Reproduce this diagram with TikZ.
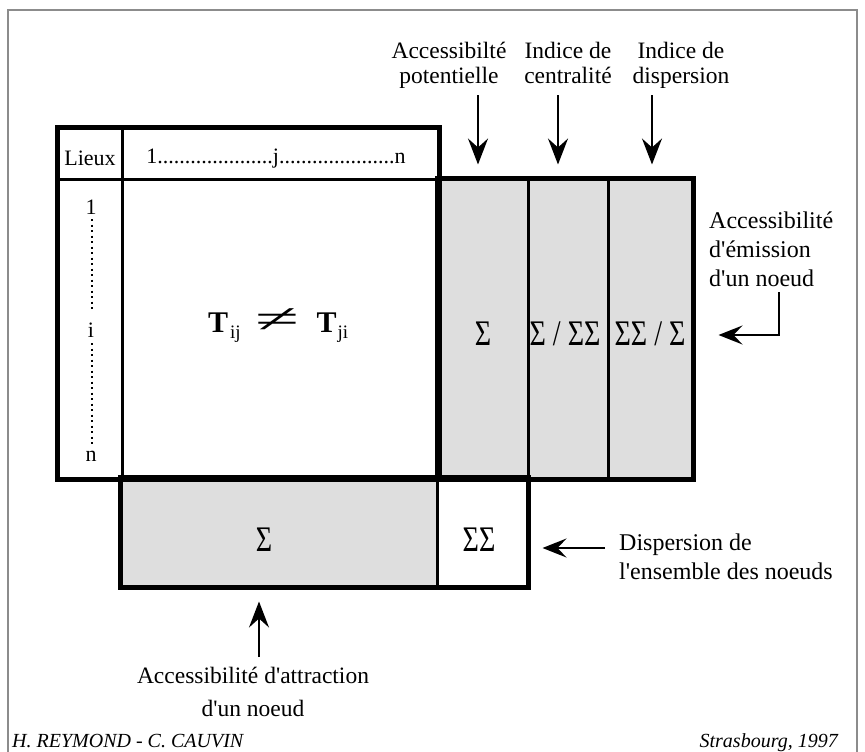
\documentclass[tikz,border=0pt]{standalone}
\usepackage{fontspec}
\setmainfont{Liberation Serif}[Ligatures=TeXOff]
\usetikzlibrary{arrows.meta}
\begin{document}
\begin{tikzpicture}[x=1pt,y=-1pt,
  cellbox/.style={draw=black, line width=3pt, inner sep=0pt},
  grayc/.style={fill=black!13},
  txt/.style={font=\fontsize{22}{26}\selectfont, inner sep=0pt},
  lblc/.style={font=\fontsize{23.5}{25}\selectfont, align=center, inner sep=0pt, anchor=north},
  lbll/.style={font=\fontsize{24}{29}\selectfont, align=left, inner sep=0pt, anchor=north west},
  sig/.style={font=\fontsize{36}{36}\selectfont, inner sep=0pt},
  foot/.style={font=\fontsize{20}{20}\selectfont\itshape, inner sep=0pt},
  bigarrow/.style={line width=2pt, -{Stealth[length=26pt,width=20pt,inset=9pt]}},
  sidearrow/.style={line width=2pt, -{Stealth[length=24pt,width=19pt,inset=9pt]}},
  dotline/.style={line width=2pt, dash pattern=on 2pt off 3.5pt}
]
\useasboundingbox (0,0) rectangle (865,752);
% frame
\draw[black!45, line width=2pt] (8,752) -- (8,10) -- (857,10) -- (857,752);

% matrix cells
\node[cellbox, minimum width=64pt, minimum height=51pt] (lieux) at (90,153.5) {};
\node[cellbox, minimum width=316pt, minimum height=51pt] (head) at (280,153.5) {};
\node[cellbox, minimum width=64pt, minimum height=299pt] (rowlab) at (90,328.5) {};
\node[cellbox, minimum width=316pt, minimum height=299pt] (main) at (280,328.5) {};
% gray columns
\node[cellbox, grayc, minimum width=90pt, minimum height=299pt] (cs1) at (483,328.5) {};
\node[cellbox, grayc, minimum width=80pt, minimum height=299pt] (cs2) at (568,328.5) {};
\node[cellbox, grayc, minimum width=84pt, minimum height=299pt] (cs3) at (650,328.5) {};
% bottom row
\node[cellbox, grayc, minimum width=316pt, minimum height=108pt] (bs) at (279,532) {};
\node[cellbox, minimum width=90pt, minimum height=108pt] (ss) at (482,532) {};
% outer thick borders
\draw[line width=4pt] (lieux.north west) rectangle (main.south east);
\draw[line width=4pt] (cs1.north west) rectangle (cs3.south east);
\draw[line width=4pt] (bs.north west) rectangle (ss.south east);

% texts in matrix
\node[txt, anchor=base] (tlieux) at (90,165) {Lieux};
\node[txt, anchor=base] (thead) at (276,163) {1.....................j.....................n};
\node[txt] (r1) at (91,207) {1};
\node[txt] (ri) at (91,330) {i};
\node[txt] (rn) at (91,456) {n};
\draw[dotline] (92,219) -- (92,312);
\draw[dotline] (92,343) -- (92,447);
\node[inner sep=0pt, anchor=west] (tij) at (208,326) {{\fontsize{30}{30}\selectfont\bfseries T}\hspace{2pt}\raisebox{-6pt}{\fontsize{19}{19}\selectfont ij}\hspace{15pt}\raisebox{0pt}{\scalebox{2.0}[1]{\fontsize{40}{40}\selectfont ≠}}\hspace{17pt}{\fontsize{30}{30}\selectfont\bfseries T}\hspace{1pt}\raisebox{-6pt}{\fontsize{19}{19}\selectfont ji}};

\node[sig] (sg1) at (483,334) {\scalebox{0.78}[1]{Σ}};
\node[sig] (sg2) at (565,334) {\scalebox{0.78}[1]{Σ / ΣΣ}};
\node[sig] (sg3) at (650,334) {\scalebox{0.78}[1]{ΣΣ / Σ}};
\node[sig] (sg4) at (264,540) {\scalebox{0.78}[1]{Σ}};
\node[sig] (sg5) at (479,540) {\scalebox{0.78}[1]{ΣΣ}};

% top labels
\node[lblc] (l1) at (449,42) {Accessibilté\\potentielle};
\node[lblc] (l2) at (568,42) {Indice de\\centralité};
\node[lblc] (l3) at (681,42) {Indice de\\dispersion};
\coordinate (a1) at (478,95);
\coordinate (a2) at (558,95);
\coordinate (a3) at (652,95);
\draw[bigarrow, shorten >=13pt] (a1) -- (a1 |- cs1.north);
\draw[bigarrow, shorten >=13pt] (a2) -- (a2 |- cs2.north);
\draw[bigarrow, shorten >=13pt] (a3) -- (a3 |- cs3.north);

% right label
\node[lbll] (lem) at (709,211.5) {Accessibilité\\d'émission\\d'un noeud};
\coordinate (e1) at (779,292);
\coordinate (e2) at (779,335);
\draw[sidearrow, shorten >=25pt] (e1) -- (e2) -- (e2 -| cs3.east);

% dispersion label
\node[lbll] (ldisp) at (619,533.5) {Dispersion de\\l'ensemble des noeuds};
\coordinate (d1) at (605,548);
\draw[sidearrow, shorten >=14pt] (d1) -- (d1 -| ss.east);

% bottom label
\node[lblc, font=\fontsize{23.5}{33}\selectfont] (lattr) at (253,666.5) {Accessibilité d'attraction\\d'un noeud};
\coordinate (b1) at (259,657);
\draw[bigarrow, shorten >=14pt] (b1) -- (b1 |- bs.south);

% footer
\node[foot, anchor=base west] (auth) at (12,747) {H. REYMOND - C. CAUVIN};
\node[foot, anchor=base east] (place) at (838,747) {Strasbourg, 1997};
\end{tikzpicture}
\end{document}
